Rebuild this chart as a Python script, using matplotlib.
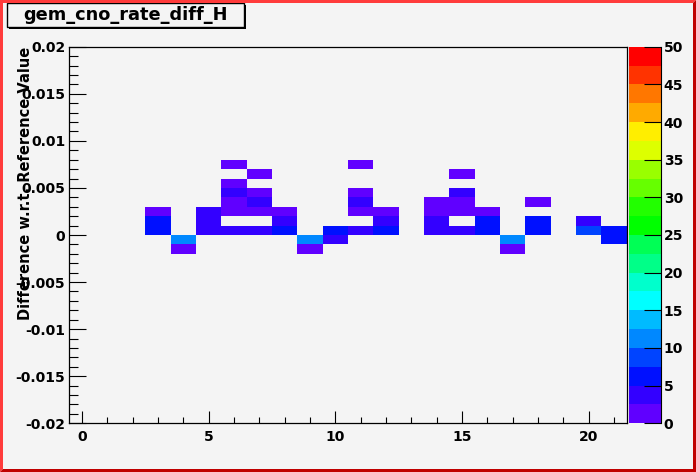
import numpy as np
import matplotlib
matplotlib.use('Agg')
import matplotlib.pyplot as plt
from matplotlib.colors import ListedColormap, BoundaryNorm
from matplotlib.patches import Rectangle, Polygon

plt.rcParams['font.family'] = ['DejaVu Sans']
plt.rcParams['font.weight'] = 'bold'

W, H = 696, 472
BG = '#f4f4f4'

# histogram binning: 22 x bins centred on integers, 40 y bins of 0.001
x_edges = np.arange(-0.5, 22.0, 1.0)
y_edges = np.linspace(-0.02, 0.02, 41)

# filled cells (bin centre x, bin centre y, content)
cell_x = [3, 3, 3,
          4, 4,
          5, 5, 5,
          6, 6, 6, 6, 6, 6,
          7, 7, 7, 7, 7,
          8, 8, 8,
          9, 9,
          10, 10,
          11, 11, 11, 11, 11,
          12, 12, 12,
          14, 14, 14, 14,
          15, 15, 15, 15, 15,
          16, 16, 16,
          17, 17,
          18, 18, 18,
          20, 20,
          21, 21]
cell_y = [0.0025, 0.0015, 0.0005,
          -0.0005, -0.0015,
          0.0025, 0.0015, 0.0005,
          0.0075, 0.0055, 0.0045, 0.0035, 0.0025, 0.0005,
          0.0065, 0.0045, 0.0035, 0.0025, 0.0005,
          0.0025, 0.0015, 0.0005,
          -0.0005, -0.0015,
          0.0005, -0.0005,
          0.0075, 0.0045, 0.0035, 0.0025, 0.0005,
          0.0025, 0.0015, 0.0005,
          0.0035, 0.0025, 0.0015, 0.0005,
          0.0065, 0.0045, 0.0035, 0.0025, 0.0005,
          0.0025, 0.0015, 0.0005,
          -0.0005, -0.0015,
          0.0035, 0.0015, 0.0005,
          0.0015, 0.0005,
          0.0005, -0.0005]
cell_n = [1, 6, 6,
          11, 1,
          4, 4, 4,
          1, 1, 4, 1, 1, 4,
          1, 1, 4, 1, 4,
          1, 4, 6,
          11, 1,
          6, 4,
          1, 1, 4, 1, 4,
          1, 4, 6,
          1, 1, 4, 4,
          1, 4, 1, 1, 4,
          1, 6, 6,
          11, 1,
          1, 6, 6,
          4, 9,
          6, 6]

palette = ['#6000ff', '#3300ff', '#0010ff', '#0044ff', '#0088ff',
           '#00bbff', '#00ffff', '#00ffcc', '#00ff88', '#00ff55',
           '#00ff00', '#22ff00', '#66ff00', '#99ff00', '#ddff00',
           '#ffee00', '#ffaa00', '#ff7700', '#ff3300', '#ff0000']
z_levels = np.arange(0, 52.5, 2.5)
z_ticks = list(range(0, 51, 5))

y_ticks = [-0.02, -0.015, -0.01, -0.005, 0, 0.005, 0.01, 0.015, 0.02]
y_labels = ['-0.02', '-0.015', '-0.01', '-0.005', '0', '0.005', '0.01', '0.015', '0.02']
x_ticks = [0, 5, 10, 15, 20]

counts, _, _ = np.histogram2d(cell_x, cell_y, bins=[x_edges, y_edges], weights=cell_n)
z = np.ma.masked_where(counts.T == 0, counts.T)

cmap = ListedColormap(palette)
norm = BoundaryNorm(z_levels, cmap.N)

fig = plt.figure(figsize=(W / 100, H / 100), dpi=100, facecolor=BG)


def box(x0, y0, x1, y1):
    # pixel box (top-left origin) -> figure fraction rect
    return [x0 / W, 1 - y1 / H, (x1 - x0) / W, (y1 - y0) / H]


ax_l, ax_t, ax_r, ax_b = 69.3, 46.7, 626.7, 423.3
ax = fig.add_axes(box(ax_l, ax_t, ax_r, ax_b))
ax.set_facecolor(BG)
mesh = ax.pcolormesh(x_edges, y_edges, z, cmap=cmap, norm=norm)
ax.set_xlim(-0.5, 21.5)
ax.set_ylim(-0.02, 0.02)

ax.set_yticks(y_ticks)
ax.set_yticklabels(y_labels)
ax.set_yticks(np.arange(-0.02, 0.0201, 0.001), minor=True)
ax.set_xticks(x_ticks)
ax.set_xticks(np.arange(0, 22, 1), minor=True)
ax.tick_params(axis='y', which='major', direction='in', length=12.5, width=0.8,
               labelsize=10, pad=3)
ax.tick_params(axis='y', which='minor', direction='in', length=6.2, width=0.8)
ax.tick_params(axis='x', which='major', direction='in', length=8.5, width=0.8,
               labelsize=10, pad=5)
ax.tick_params(axis='x', which='minor', direction='in', length=4.2, width=0.8)
for s in ax.spines.values():
    s.set_linewidth(0.9)

# ROOT draws the y title right-aligned at the top, over the tick labels
ax.text(-0.079, 1.0, 'Difference w.r.t. Reference Value', transform=ax.transAxes,
        rotation=90, rotation_mode='anchor', ha='right', va='center',
        fontsize=10.5, fontweight='bold')

cax = fig.add_axes(box(629, ax_t, 661, ax_b))
cb = fig.colorbar(mesh, cax=cax, ticks=z_ticks)
cb.outline.set_visible(False)
cax.spines['right'].set_visible(True)
cax.tick_params(axis='y', direction='in', length=12.5, width=0.8, labelsize=10, pad=2)
cax.minorticks_off()
cax.set_yticklabels([str(t) for t in z_ticks])

# title pave with shadow
fig.add_artist(Rectangle((8.7 / W, 1 - 29.3 / H), (244 - 6.7) / W, (27.3 - 2.7) / H,
                         transform=fig.transFigure, facecolor='black', edgecolor='none'))
fig.add_artist(Rectangle((6.7 / W, 1 - 27.3 / H), (244 - 6.7) / W, (27.3 - 2.7) / H,
                         transform=fig.transFigure, facecolor=BG, edgecolor='black', lw=1))
fig.text((6.7 + 244) / 2 / W, 1 - 15.5 / H, 'gem_cno_rate_diff_H', ha='center', va='center',
         fontsize=12.8, fontweight='bold')

# canvas bevel border
b = 3
light = '#ff3b3b'
dark = '#c00000'
pts_light = [(0, 0), (W, 0), (W - b, b), (b, b), (b, H - b), (0, H)]
pts_dark = [(W, 0), (W, H), (0, H), (b, H - b), (W - b, H - b), (W - b, b)]
for pts, c in [(pts_light, light), (pts_dark, dark)]:
    fr = [(px / W, 1 - py / H) for px, py in pts]
    fig.add_artist(Polygon(fr, closed=True, transform=fig.transFigure,
                           facecolor=c, edgecolor='none'))

fig.savefig('out.png', dpi=100, facecolor=BG)
